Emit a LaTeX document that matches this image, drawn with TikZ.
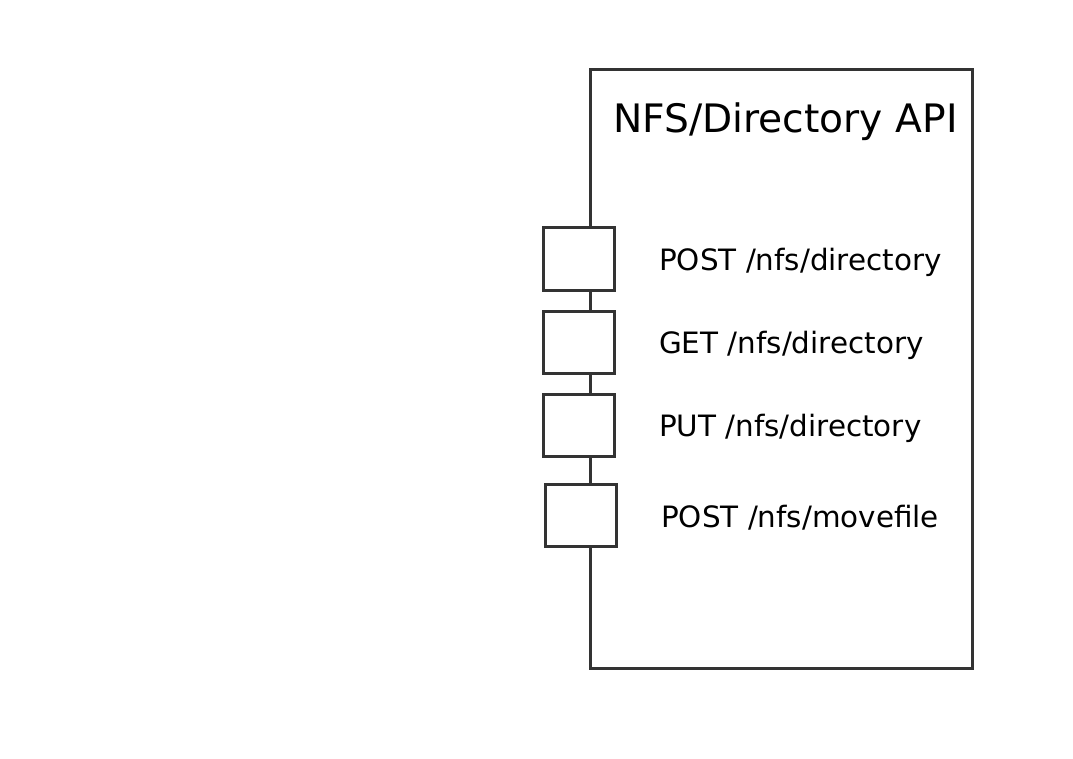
\documentclass[tikz,border=0pt]{standalone}
\usepackage{fontspec}
\setmainfont{DejaVu Sans}
\definecolor{edge}{HTML}{333333}
\tikzset{
  port/.style={draw=edge, line width=3pt, fill=white, minimum width=71pt, minimum height=62pt, inner sep=0pt},
  lbl/.style={anchor=west, inner sep=0pt, font=\fontsize{29.4}{32}\selectfont},
  frame/.style={draw=edge, line width=3pt}
}
\begin{document}
\begin{tikzpicture}[x=1pt,y=-1pt]
\useasboundingbox (0,0) rectangle (1073,759);
\node[frame, minimum width=382pt, minimum height=598pt, inner sep=0pt] (api) at (781,369) {};
\node[anchor=west, inner sep=0pt, font=\fontsize{39.2}{42}\selectfont] (title) at (613,121.5) {NFS/Directory API};
\node[port] (p1) at (578.5,259) {};
\node[port] (p2) at (578.5,342) {};
\node[port] (p3) at (578.5,425) {};
\node[port] (p4) at (580.5,515) {};
\node[lbl] (l1) at (659,262) {POST /nfs/directory};
\node[lbl] (l2) at (659,345) {GET /nfs/directory};
\node[lbl] (l3) at (659,428) {PUT /nfs/directory};
\node[lbl] (l4) at (661,518) {POST /nfs/movefile};
\end{tikzpicture}
\end{document}
